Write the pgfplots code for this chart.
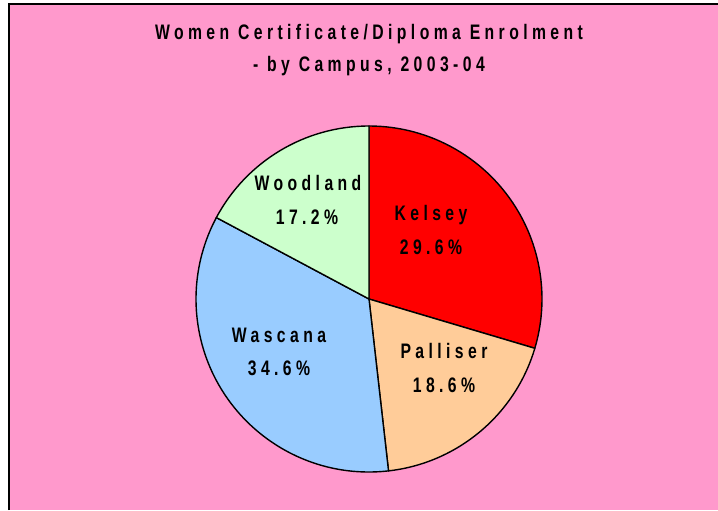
\documentclass[border=0pt]{standalone}
\usepackage{pgfplots}
\usepackage{pgfplotstable}
\pgfplotsset{compat=1.18}
\usepackage{fontspec}
\setmainfont{Liberation Sans}[FakeStretch=0.75, LetterSpace=21]
\definecolor{bgpink}{HTML}{FF99CC}
\definecolor{ckelsey}{HTML}{FF0000}
\definecolor{cpalliser}{HTML}{FFCC99}
\definecolor{cwascana}{HTML}{99CCFF}
\definecolor{cwoodland}{HTML}{CCFFCC}

\pgfplotstableread{
name value
Kelsey 29.6
Palliser 18.6
Wascana 34.6
Woodland 17.2
}\piedata
\pgfplotstablegetelem{0}{value}\of\piedata\let\vA\pgfplotsretval%
\pgfplotstablegetelem{1}{value}\of\piedata\let\vB\pgfplotsretval%
\pgfplotstablegetelem{2}{value}\of\piedata\let\vC\pgfplotsretval%
\pgfplotstablegetelem{3}{value}\of\piedata\let\vD\pgfplotsretval%
\pgfmathsetmacro\aA{90}%
\pgfmathsetmacro\aB{\aA-3.6*\vA}%
\pgfmathsetmacro\aC{\aB-3.6*\vB}%
\pgfmathsetmacro\aD{\aC-3.6*\vC}%
\pgfmathsetmacro\aE{\aD-3.6*\vD}%

\begin{document}%
\begin{tikzpicture}
\begin{axis}[
  scale only axis, width=359pt, height=255pt,
  xmin=0, xmax=718, ymin=0, ymax=510,
  hide axis, clip=false, xtick=\empty, ytick=\empty,
]
\fill[white] (axis cs:0,0) rectangle (axis cs:718,510);
\coordinate (BL) at (axis cs:0,0);
\coordinate (TR) at (axis cs:718,510);
\fill[bgpink] (axis cs:9,0) rectangle (axis cs:718,506);
\draw[black, line width=0.6pt] (axis cs:9,0) -- (axis cs:9,506) -- (axis cs:718,506);

\tikzset{ttl/.style={anchor=base, font=\bfseries\fontsize{10.5}{12}\selectfont}}
\node[ttl] at (axis cs:369,470) {Women Certificate/Diploma Enrolment};
\node[ttl] at (axis cs:369,438) {- by Campus, 2003-04};

\filldraw[fill=ckelsey, draw=black, line width=0.7pt, line join=round] (axis cs:369,211) -- ++(\aA:86.5pt) arc[start angle=\aA, end angle=\aB, radius=86.5pt] -- cycle;
\filldraw[fill=cpalliser, draw=black, line width=0.7pt, line join=round] (axis cs:369,211) -- ++(\aB:86.5pt) arc[start angle=\aB, end angle=\aC, radius=86.5pt] -- cycle;
\filldraw[fill=cwascana, draw=black, line width=0.7pt, line join=round] (axis cs:369,211) -- ++(\aC:86.5pt) arc[start angle=\aC, end angle=\aD, radius=86.5pt] -- cycle;
\filldraw[fill=cwoodland, draw=black, line width=0.7pt, line join=round] (axis cs:369,211) -- ++(\aD:86.5pt) arc[start angle=\aD, end angle=\aE, radius=86.5pt] -- cycle;

\tikzset{lbl/.style={anchor=base, font=\bfseries\fontsize{10.5}{12}\selectfont}}
\node[lbl] at (axis cs:308,319.5) {Woodland};
\node[lbl] at (axis cs:307,285.5) {\vD\%};
\node[lbl] at (axis cs:431,289.5) {Kelsey};
\node[lbl] at (axis cs:431,255.5) {\vA\%};
\node[lbl] at (axis cs:279,167.5) {Wascana};
\node[lbl] at (axis cs:279,134.5) {\vC\%};
\node[lbl] at (axis cs:444,151.5) {Palliser};
\node[lbl] at (axis cs:444,117.5) {\vB\%};
\end{axis}
\pgfresetboundingbox
\path[use as bounding box] (BL) rectangle (TR);
\end{tikzpicture}%
\end{document}
